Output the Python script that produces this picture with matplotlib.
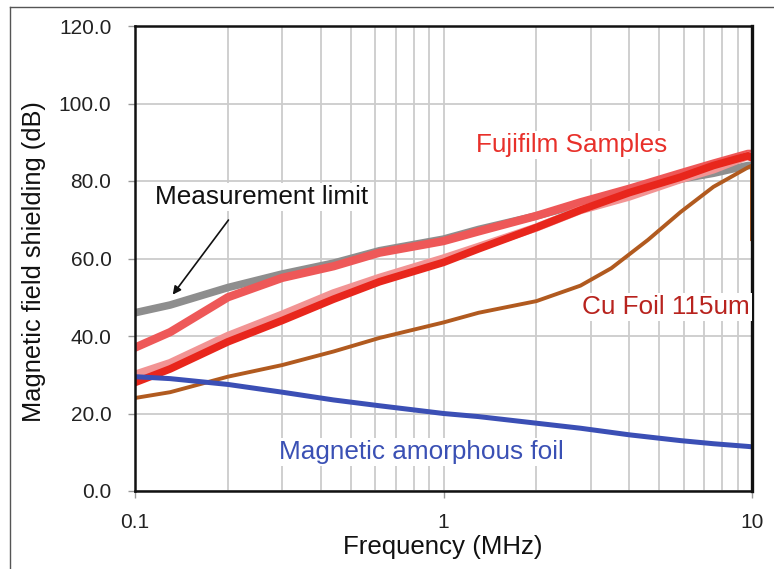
import matplotlib.pyplot as plt
from matplotlib.lines import Line2D
from matplotlib.ticker import FixedLocator, NullFormatter

plt.rcParams['font.family'] = ['Liberation Sans', 'DejaVu Sans']

# frequency points (MHz)
freq = [0.1, 0.13, 0.2, 0.3, 0.44, 0.62, 1.0, 1.3, 2.0, 2.78, 4.0, 5.87, 7.5, 9.7, 10.0]

meas_limit = [46, 48, 52.5, 56, 58.8, 62, 65, 67.5, 71, 74, 77, 80.5, 82, 84, 84]
fuji_upper = [37, 41, 50, 55, 58, 61.5, 64.5, 67, 71, 74.5, 78, 82, 84.5, 87, 87]
fuji_pink = [30, 33, 40, 45.5, 51, 55, 60, 63, 68, 72.5, 76, 80.5, 83, 86.5, 86]
fuji_red = [28, 31.5, 38.5, 44, 49.5, 54, 59, 62.5, 68, 72.5, 77, 81, 84, 86.5, 86]
amorphous = [29.5, 29, 27.5, 25.5, 23.5, 22, 20, 19.2, 17.5, 16.2, 14.5, 13, 12.2, 11.5, 11.4]

cu_freq = [0.1, 0.13, 0.2, 0.3, 0.44, 0.62, 1.0, 1.3, 2.0, 2.78, 3.5, 4.6, 5.87, 7.5, 9.7, 10.0, 10.0]
cu_foil = [24, 25.5, 29.5, 32.5, 36, 39.5, 43.5, 46, 49, 53, 57.5, 64.8, 72, 78.5, 83.5, 84, 65]

yticks = [0, 20, 40, 60, 80, 100, 120]
xticks = [0.1, 1, 10]
xtick_labels = ['0.1', '1', '10']

fig = plt.figure(figsize=(7.74, 5.69), dpi=100)
ax = fig.add_axes([135 / 774, 1 - 491 / 569, 617 / 774, 465 / 569])

ax.plot(freq, meas_limit, color='#8e8e8e', lw=5.5, zorder=2)
ax.plot(freq, fuji_upper, color='#ee5858', lw=6, zorder=2.1)
ax.plot(freq, fuji_pink, color='#f29494', lw=6, zorder=2.2)
ax.plot(freq, fuji_red, color='#e8261c', lw=5.5, zorder=2.3)
ax.plot(cu_freq, cu_foil, color='#b15a1f', lw=2.8, zorder=2.4)
ax.plot(freq, amorphous, color='#3b4fb5', lw=3.6, zorder=2.4)

ax.set_xscale('log')
ax.set_xlim(0.1, 10)
ax.set_ylim(0, 120)
ax.set_yticks(yticks)
ax.set_yticklabels([f'{v:.1f}' for v in yticks])
ax.xaxis.set_major_locator(FixedLocator(xticks))
ax.set_xticklabels(xtick_labels)
minor = [m * d for d in (0.1, 1) for m in range(2, 10)]
ax.xaxis.set_minor_locator(FixedLocator(minor))
ax.xaxis.set_minor_formatter(NullFormatter())

ax.grid(True, which='both', axis='x', color='#cccccc', lw=1.3, zorder=0)
ax.grid(True, which='major', axis='y', color='#cccccc', lw=1.3, zorder=0)
ax.set_axisbelow(True)

ax.tick_params(axis='both', which='major', length=5, width=1, color='#999999',
               labelsize=15, labelcolor='#222222')
ax.tick_params(axis='y', pad=12)
ax.tick_params(axis='x', pad=11)
ax.tick_params(axis='x', which='minor', length=0)
for s in ax.spines.values():
    s.set_color('#111111')
    s.set_linewidth(1.8)
ax.spines['right'].set_linewidth(2.4)

fig.text(443 / 774, 1 - 547 / 569, 'Frequency (MHz)', fontsize=18.6,
         ha='center', va='center', color='#111111')
fig.text(34 / 774, 1 - 262 / 569, 'Magnetic field shielding (dB)', fontsize=18.3,
         rotation=90, ha='center', va='center', color='#111111')

box = dict(facecolor='white', edgecolor='none', pad=1.5)
ax.text(0.258, 75.9, 'Measurement limit', fontsize=18.8, color='#111111',
        ha='center', va='center', bbox=box, zorder=5)
ax.annotate('', xy=(0.1309, 50.1), xytext=(0.2034, 70.5),
            arrowprops=dict(arrowstyle='-|>', color='#111111', lw=1.2,
                            mutation_scale=12), zorder=5)
ax.text(2.6, 89.3, 'Fujifilm Samples', fontsize=18.8, color='#e8302a',
        ha='center', va='center', bbox=box, zorder=5)
ax.text(5.26, 47.5, 'Cu Foil 115um', fontsize=18.8, color='#b8231e',
        ha='center', va='center', bbox=box, zorder=5, clip_on=False)
ax.text(0.85, 10, 'Magnetic amorphous foil', fontsize=18.8, color='#3a50b4',
        ha='center', va='center', bbox=box, zorder=5)

# outer frame of the figure
fig.add_artist(Line2D([10 / 774, 1], [1 - 7 / 569, 1 - 7 / 569],
                      transform=fig.transFigure, color='#555555', lw=1))
fig.add_artist(Line2D([10 / 774, 10 / 774], [0, 1 - 7 / 569],
                      transform=fig.transFigure, color='#555555', lw=1))

fig.savefig('out.png', dpi=100)
